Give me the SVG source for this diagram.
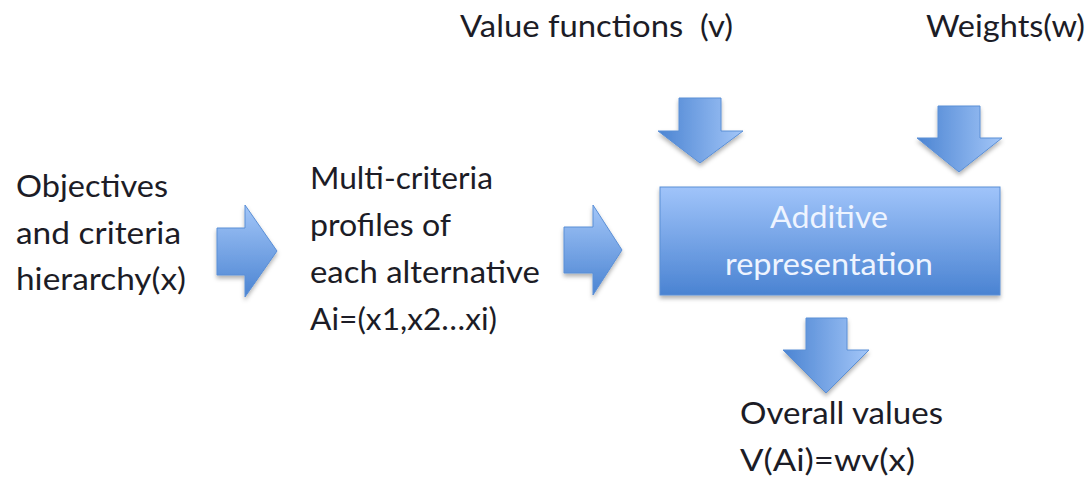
<svg xmlns="http://www.w3.org/2000/svg" width="1091" height="482" viewBox="0 0 1091 482">
<style>
.t{font-family:Lato,"Liberation Sans",sans-serif;font-size:31px;fill:#1c1c26}
.w{font-family:Lato,"Liberation Sans",sans-serif;font-size:31px;fill:#eef4ff;text-anchor:middle}
.arr{stroke:#5a8fd6;stroke-width:1;filter:url(#sh)}
</style>
<defs>
<linearGradient id="gv" x1="0" y1="0" x2="0" y2="1"><stop offset="0" stop-color="#a3c6f8"/><stop offset="1" stop-color="#4b84d2"/></linearGradient>
<linearGradient id="gh" x1="0" y1="0" x2="1" y2="0"><stop offset="0" stop-color="#4b84d2"/><stop offset="1" stop-color="#a3c6f8"/></linearGradient>
<linearGradient id="gb" x1="0" y1="0" x2="0" y2="1"><stop offset="0" stop-color="#a0c4fa"/><stop offset="1" stop-color="#4a83d2"/></linearGradient>
<filter id="sh" x="-20%" y="-20%" width="140%" height="150%"><feDropShadow dx="0" dy="3" stdDeviation="2" flood-color="#000" flood-opacity="0.3"/></filter>
</defs>
<g id="connectors">
<path class="arr" fill="url(#gv)" d="M217,228 L245,228 L245,205 L277,251 L245,297 L245,275 L217,275 Z"/>
<path class="arr" fill="url(#gv)" d="M564,227 L593,227 L593,205 L622,250 L593,295 L593,273 L564,273 Z"/>
<path class="arr" fill="url(#gh)" d="M679,98 L721,98 L721,131 L743,131 L700,163 L658,131 L679,131 Z"/>
<path class="arr" fill="url(#gh)" d="M938,106 L980,106 L980,138 L1002,138 L959,172 L917,138 L938,138 Z"/>
<path class="arr" fill="url(#gh)" d="M806,318 L847,318 L847,350 L869,350 L826,393 L783,350 L806,350 Z"/>
</g>
<g id="objectives">
<text class="t" x="16" y="197" textLength="152" lengthAdjust="spacingAndGlyphs">Objectives</text>
<text class="t" x="16" y="244" textLength="165" lengthAdjust="spacingAndGlyphs">and criteria</text>
<text class="t" x="16" y="290" textLength="170" lengthAdjust="spacingAndGlyphs">hierarchy(x)</text>
</g>
<g id="profiles">
<text class="t" x="310" y="189" textLength="183" lengthAdjust="spacingAndGlyphs">Multi-criteria</text>
<text class="t" x="310" y="236" textLength="141" lengthAdjust="spacingAndGlyphs">profiles of</text>
<text class="t" x="310" y="283" textLength="230" lengthAdjust="spacingAndGlyphs">each alternative</text>
<text class="t" x="310" y="330" textLength="187" lengthAdjust="spacingAndGlyphs">Ai=(x1,x2…xi)</text>
</g>
<g id="value-functions">
<text class="t" x="460" y="37" textLength="273" lengthAdjust="spacingAndGlyphs" xml:space="preserve">Value functions  (v)</text>
</g>
<g id="weights">
<text class="t" x="926" y="37" textLength="159" lengthAdjust="spacingAndGlyphs">Weights(w)</text>
</g>
<g id="additive">
<rect x="660" y="187" width="340" height="108" fill="url(#gb)" stroke="#5a8fd6" stroke-width="1" filter="url(#sh)"/>
<text class="w" x="829" y="228" textLength="118" lengthAdjust="spacingAndGlyphs">Additive</text>
<text class="w" x="829" y="275" textLength="208" lengthAdjust="spacingAndGlyphs">representation</text>
</g>
<g id="overall">
<text class="t" x="740" y="424" textLength="203" lengthAdjust="spacingAndGlyphs">Overall values</text>
<text class="t" x="740" y="471" textLength="175" lengthAdjust="spacingAndGlyphs">V(Ai)=wv(x)</text>
</g>
</svg>
